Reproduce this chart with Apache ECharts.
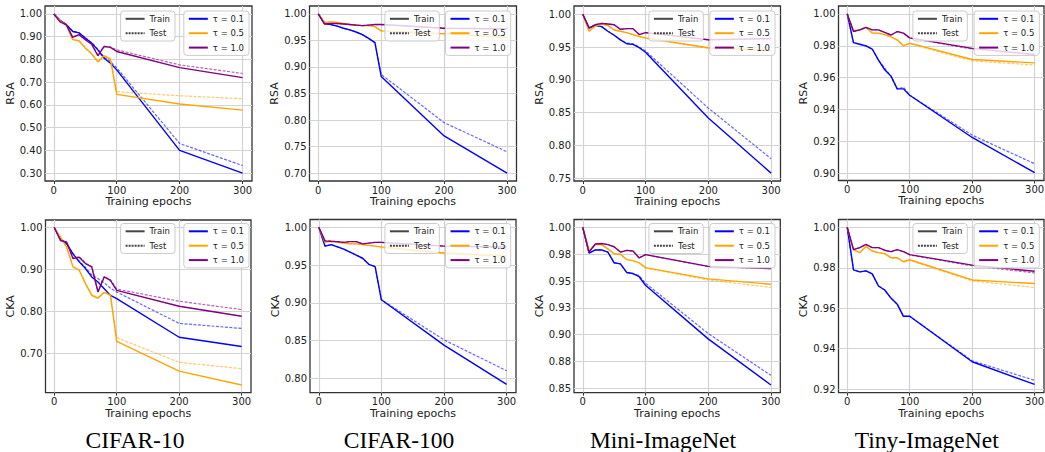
<!DOCTYPE html>
<html><head><meta charset="utf-8">
<script src="https://cdn.jsdelivr.net/npm/echarts@6/dist/echarts.min.js"></script>
<style>html,body{margin:0;padding:0;background:#fff}#c{width:1045px;height:452px}</style>
</head><body><div id="c"></div>
<script>
// ---------------- data ----------------
const epochs = [0, 10, 20, 30, 40, 50, 60, 70, 80, 90, 100, 200, 300];
const tauNames = ['τ = 0.1', 'τ = 0.5', 'τ = 1.0'];
const splitNames = ['Train', 'Test'];
const captions = ['CIFAR-10', 'CIFAR-100', 'Mini-ImageNet', 'Tiny-ImageNet'];
const metricNames = ['RSA', 'CKA'];
const xTicks = [0, 100, 200, 300];
const xTitle = 'Training epochs';

// RSA, CIFAR-10
const rsa_c10_t01_train = [1.0, 0.972, 0.953, 0.923, 0.917, 0.894, 0.872, 0.842, 0.805, 0.783, 0.754, 0.400, 0.300];
const rsa_c10_t01_test  = [1.0, 0.972, 0.953, 0.925, 0.918, 0.895, 0.875, 0.845, 0.810, 0.790, 0.763, 0.430, 0.333];
const rsa_c10_t05_train = [1.0, 0.970, 0.950, 0.887, 0.882, 0.850, 0.825, 0.789, 0.816, 0.800, 0.646, 0.604, 0.577];
const rsa_c10_t05_test  = [1.0, 0.970, 0.950, 0.888, 0.883, 0.852, 0.828, 0.792, 0.818, 0.805, 0.658, 0.640, 0.627];
const rsa_c10_t10_train = [1.0, 0.965, 0.952, 0.897, 0.909, 0.887, 0.867, 0.816, 0.857, 0.853, 0.835, 0.764, 0.720];
const rsa_c10_t10_test  = [1.0, 0.966, 0.953, 0.899, 0.910, 0.889, 0.870, 0.820, 0.858, 0.855, 0.842, 0.776, 0.738];
const rsa_c10_yTicks = [0.30, 0.40, 0.50, 0.60, 0.70, 0.80, 0.90, 1.00];
const rsa_c10_yLabels = ['0.30', '0.40', '0.50', '0.60', '0.70', '0.80', '0.90', '1.00'];

// RSA, CIFAR-100
const rsa_c100_t01_train = [1.0, 0.982, 0.980, 0.977, 0.973, 0.970, 0.966, 0.961, 0.954, 0.946, 0.882, 0.770, 0.700];
const rsa_c100_t01_test  = [1.0, 0.982, 0.980, 0.977, 0.973, 0.970, 0.966, 0.961, 0.954, 0.946, 0.886, 0.795, 0.740];
const rsa_c100_t05_train = [1.0, 0.984, 0.985, 0.984, 0.982, 0.980, 0.979, 0.978, 0.978, 0.976, 0.968, 0.963, 0.956];
const rsa_c100_t05_test  = [1.0, 0.984, 0.985, 0.984, 0.982, 0.980, 0.979, 0.978, 0.978, 0.976, 0.968, 0.962, 0.955];
const rsa_c100_t10_train = [1.0, 0.981, 0.982, 0.982, 0.981, 0.980, 0.979, 0.978, 0.979, 0.980, 0.980, 0.973, 0.972];
const rsa_c100_t10_test  = [1.0, 0.981, 0.982, 0.982, 0.981, 0.980, 0.979, 0.978, 0.979, 0.980, 0.980, 0.973, 0.971];
const rsa_c100_yTicks = [0.70, 0.75, 0.80, 0.85, 0.90, 0.95, 1.00];
const rsa_c100_yLabels = ['0.70', '0.75', '0.80', '0.85', '0.90', '0.95', '1.00'];

// RSA, Mini-ImageNet
const rsa_mini_t01_train = [1.0, 0.979, 0.983, 0.981, 0.974, 0.968, 0.961, 0.955, 0.954, 0.949, 0.942, 0.842, 0.758];
const rsa_mini_t01_test  = [1.0, 0.979, 0.983, 0.981, 0.974, 0.968, 0.961, 0.956, 0.955, 0.950, 0.944, 0.857, 0.780];
const rsa_mini_t05_train = [1.0, 0.974, 0.982, 0.985, 0.983, 0.976, 0.974, 0.972, 0.969, 0.966, 0.964, 0.949, 0.945];
const rsa_mini_t05_test  = [1.0, 0.974, 0.982, 0.985, 0.983, 0.976, 0.974, 0.972, 0.969, 0.966, 0.963, 0.948, 0.944];
const rsa_mini_t10_train = [1.0, 0.979, 0.984, 0.986, 0.985, 0.984, 0.977, 0.978, 0.978, 0.969, 0.972, 0.961, 0.963];
const rsa_mini_t10_test  = [1.0, 0.979, 0.984, 0.986, 0.985, 0.984, 0.977, 0.978, 0.978, 0.969, 0.972, 0.961, 0.962];
const rsa_mini_yTicks = [0.75, 0.80, 0.85, 0.90, 0.95, 1.00];
const rsa_mini_yLabels = ['0.75', '0.80', '0.85', '0.90', '0.95', '1.00'];

// RSA, Tiny-ImageNet
const rsa_tiny_t01_train = [1.0, 0.982, 0.981, 0.980, 0.978, 0.971, 0.965, 0.961, 0.953, 0.953, 0.949, 0.9225, 0.9005];
const rsa_tiny_t01_test  = [1.0, 0.982, 0.981, 0.980, 0.978, 0.971, 0.966, 0.961, 0.953, 0.954, 0.949, 0.924, 0.906];
const rsa_tiny_t05_train = [1.0, 0.9895, 0.990, 0.9916, 0.988, 0.988, 0.987, 0.9857, 0.9838, 0.980, 0.9817, 0.9714, 0.9693];
const rsa_tiny_t05_test  = [1.0, 0.9895, 0.990, 0.9914, 0.988, 0.9878, 0.9868, 0.9855, 0.9835, 0.980, 0.9813, 0.9705, 0.968];
const rsa_tiny_t10_train = [1.0, 0.989, 0.990, 0.9916, 0.990, 0.990, 0.9885, 0.9868, 0.989, 0.988, 0.985, 0.9784, 0.9746];
const rsa_tiny_t10_test  = [1.0, 0.989, 0.990, 0.9915, 0.990, 0.990, 0.9884, 0.9866, 0.9888, 0.988, 0.9848, 0.978, 0.9744];
const rsa_tiny_yTicks = [0.90, 0.92, 0.94, 0.96, 0.98, 1.00];
const rsa_tiny_yLabels = ['0.90', '0.92', '0.94', '0.96', '0.98', '1.00'];

// CKA, CIFAR-10
const cka_c10_t01_train = [1.0, 0.973, 0.961, 0.937, 0.918, 0.902, 0.882, 0.870, 0.854, 0.838, 0.830, 0.738, 0.716];
const cka_c10_t01_test  = [1.0, 0.973, 0.961, 0.938, 0.920, 0.905, 0.887, 0.878, 0.868, 0.855, 0.846, 0.771, 0.759];
const cka_c10_t05_train = [1.0, 0.977, 0.953, 0.906, 0.898, 0.866, 0.838, 0.831, 0.845, 0.838, 0.728, 0.657, 0.624];
const cka_c10_t05_test  = [1.0, 0.977, 0.953, 0.907, 0.899, 0.867, 0.840, 0.833, 0.846, 0.840, 0.737, 0.678, 0.663];
const cka_c10_t10_train = [1.0, 0.969, 0.965, 0.926, 0.929, 0.914, 0.906, 0.846, 0.882, 0.874, 0.850, 0.812, 0.788];
const cka_c10_t10_test  = [1.0, 0.969, 0.965, 0.927, 0.930, 0.915, 0.907, 0.848, 0.883, 0.875, 0.853, 0.824, 0.804];
const cka_c10_yTicks = [0.70, 0.80, 0.90, 1.00];
const cka_c10_yLabels = ['0.70', '0.80', '0.90', '1.00'];

// CKA, CIFAR-100
const cka_c100_t01_train = [1.0, 0.975, 0.977, 0.974, 0.971, 0.967, 0.963, 0.959, 0.951, 0.948, 0.904, 0.844, 0.792];
const cka_c100_t01_test  = [1.0, 0.975, 0.977, 0.974, 0.971, 0.967, 0.963, 0.959, 0.951, 0.948, 0.904, 0.851, 0.810];
const cka_c100_t05_train = [1.0, 0.980, 0.982, 0.980, 0.979, 0.978, 0.978, 0.977, 0.976, 0.975, 0.974, 0.966, 0.962];
const cka_c100_t05_test  = [1.0, 0.980, 0.982, 0.980, 0.979, 0.978, 0.978, 0.977, 0.976, 0.975, 0.973, 0.965, 0.961];
const cka_c100_t10_train = [1.0, 0.982, 0.981, 0.981, 0.980, 0.981, 0.981, 0.978, 0.979, 0.980, 0.980, 0.975, 0.974];
const cka_c100_t10_test  = [1.0, 0.982, 0.982, 0.981, 0.980, 0.981, 0.981, 0.978, 0.979, 0.980, 0.980, 0.975, 0.973];
const cka_c100_yTicks = [0.80, 0.85, 0.90, 0.95, 1.00];
const cka_c100_yLabels = ['0.80', '0.85', '0.90', '0.95', '1.00'];

// CKA, Mini-ImageNet
const cka_mini_t01_train = [1.0, 0.976, 0.979, 0.979, 0.977, 0.967, 0.966, 0.958, 0.957, 0.954, 0.946, 0.896, 0.853];
const cka_mini_t01_test  = [1.0, 0.976, 0.979, 0.979, 0.977, 0.967, 0.966, 0.958, 0.957, 0.955, 0.948, 0.901, 0.862];
const cka_mini_t05_train = [1.0, 0.978, 0.984, 0.984, 0.980, 0.9755, 0.975, 0.970, 0.969, 0.967, 0.9625, 0.952, 0.947];
const cka_mini_t05_test  = [1.0, 0.978, 0.984, 0.984, 0.980, 0.9755, 0.975, 0.970, 0.969, 0.967, 0.962, 0.951, 0.944];
const cka_mini_t10_train = [1.0, 0.977, 0.9845, 0.985, 0.984, 0.982, 0.977, 0.9786, 0.978, 0.9715, 0.9746, 0.9637, 0.9616];
const cka_mini_t10_test  = [1.0, 0.977, 0.9845, 0.985, 0.984, 0.982, 0.977, 0.9786, 0.978, 0.9715, 0.9745, 0.9635, 0.9615];
const cka_mini_yTicks = [0.85, 0.875, 0.90, 0.925, 0.95, 0.975, 1.00];
const cka_mini_yLabels = ['0.85', '0.88', '0.90', '0.93', '0.95', '0.98', '1.00'];

// CKA, Tiny-ImageNet
const cka_tiny_t01_train = [1.0, 0.979, 0.978, 0.9785, 0.977, 0.971, 0.969, 0.965, 0.962, 0.956, 0.956, 0.9335, 0.9223];
const cka_tiny_t01_test  = [1.0, 0.979, 0.978, 0.9785, 0.977, 0.971, 0.969, 0.965, 0.962, 0.956, 0.956, 0.934, 0.9243];
const cka_tiny_t05_train = [1.0, 0.989, 0.9875, 0.9906, 0.9883, 0.9875, 0.987, 0.985, 0.985, 0.983, 0.984, 0.974, 0.9722];
const cka_tiny_t05_test  = [1.0, 0.989, 0.9875, 0.9905, 0.9882, 0.9873, 0.9868, 0.9848, 0.9848, 0.9828, 0.9837, 0.9735, 0.9703];
const cka_tiny_t10_train = [1.0, 0.989, 0.990, 0.9916, 0.990, 0.990, 0.9887, 0.988, 0.989, 0.988, 0.9865, 0.9813, 0.9783];
const cka_tiny_t10_test  = [1.0, 0.989, 0.990, 0.9915, 0.990, 0.990, 0.9886, 0.9879, 0.9889, 0.988, 0.9863, 0.981, 0.9775];
const cka_tiny_yTicks = [0.92, 0.94, 0.96, 0.98, 1.00];
const cka_tiny_yLabels = ['0.92', '0.94', '0.96', '0.98', '1.00'];

// ---------------- panel assembly ----------------
const panels = [
  { metric: 0, lines: [[rsa_c10_t01_train, rsa_c10_t01_test], [rsa_c10_t05_train, rsa_c10_t05_test], [rsa_c10_t10_train, rsa_c10_t10_test]], yTicks: rsa_c10_yTicks, yLabels: rsa_c10_yLabels },
  { metric: 0, lines: [[rsa_c100_t01_train, rsa_c100_t01_test], [rsa_c100_t05_train, rsa_c100_t05_test], [rsa_c100_t10_train, rsa_c100_t10_test]], yTicks: rsa_c100_yTicks, yLabels: rsa_c100_yLabels },
  { metric: 0, lines: [[rsa_mini_t01_train, rsa_mini_t01_test], [rsa_mini_t05_train, rsa_mini_t05_test], [rsa_mini_t10_train, rsa_mini_t10_test]], yTicks: rsa_mini_yTicks, yLabels: rsa_mini_yLabels },
  { metric: 0, lines: [[rsa_tiny_t01_train, rsa_tiny_t01_test], [rsa_tiny_t05_train, rsa_tiny_t05_test], [rsa_tiny_t10_train, rsa_tiny_t10_test]], yTicks: rsa_tiny_yTicks, yLabels: rsa_tiny_yLabels },
  { metric: 1, lines: [[cka_c10_t01_train, cka_c10_t01_test], [cka_c10_t05_train, cka_c10_t05_test], [cka_c10_t10_train, cka_c10_t10_test]], yTicks: cka_c10_yTicks, yLabels: cka_c10_yLabels },
  { metric: 1, lines: [[cka_c100_t01_train, cka_c100_t01_test], [cka_c100_t05_train, cka_c100_t05_test], [cka_c100_t10_train, cka_c100_t10_test]], yTicks: cka_c100_yTicks, yLabels: cka_c100_yLabels },
  { metric: 1, lines: [[cka_mini_t01_train, cka_mini_t01_test], [cka_mini_t05_train, cka_mini_t05_test], [cka_mini_t10_train, cka_mini_t10_test]], yTicks: cka_mini_yTicks, yLabels: cka_mini_yLabels },
  { metric: 1, lines: [[cka_tiny_t01_train, cka_tiny_t01_test], [cka_tiny_t05_train, cka_tiny_t05_test], [cka_tiny_t10_train, cka_tiny_t10_test]], yTicks: cka_tiny_yTicks, yLabels: cka_tiny_yLabels }
];

// ---------------- layout & style ----------------
const yRanges = [
  [0.265, 1.035], [0.685, 1.015], [0.746, 1.0125], [0.8955, 1.005],
  [0.6055, 1.018], [0.781, 1.0103], [0.8458, 1.0074], [0.9182, 1.0039]
];
const xRange = [-14, 315];
const grids = [
  { left: 45, top: 6, width: 207, height: 175 },
  { left: 309.5, top: 6, width: 207, height: 175 },
  { left: 574, top: 6, width: 206.5, height: 175 },
  { left: 838.5, top: 6, width: 205.5, height: 174.5 },
  { left: 45.5, top: 220, width: 205.5, height: 172.7 },
  { left: 310, top: 219.5, width: 206, height: 173.2 },
  { left: 574, top: 219.5, width: 206.3, height: 173.2 },
  { left: 838.5, top: 219.5, width: 205.5, height: 173.2 }
];
const legendRight1 = [870, 605.7, 341.7, 77.7];
const legendRight2 = [796, 534.3, 270, 5.7];
const legendTops = [11, 223.5];
const captionX = [130, 394, 658, 921.7];
const colors = ['#0000ff', '#ffa500', '#800080'];
const FONT = "'DejaVu Sans', sans-serif";
const TXT = '#222';

const option = {
  animation: false,
  backgroundColor: '#ffffff',
  title: captions.map((c, i) => ({
    text: c, left: captionX[i], top: 423, textAlign: 'center',
    textStyle: { fontFamily: "'Liberation Serif', 'Times New Roman', serif", fontSize: 23.5, fontWeight: 'normal', color: '#000' }
  })),
  grid: grids.map(g => Object.assign({ show: true, borderColor: '#333', borderWidth: 1.3, backgroundColor: 'transparent', containLabel: false, outerBoundsMode: 'none' }, g)),
  xAxis: grids.map((g, i) => ({
    type: 'value', gridIndex: i, min: xRange[0], max: xRange[1],
    name: xTitle, nameLocation: 'middle', nameGap: 12,
    nameTextStyle: { fontFamily: FONT, fontSize: 11, color: TXT },
    axisLine: { show: false },
    axisTick: { show: true, customValues: xTicks, length: 3, lineStyle: { color: '#333' } },
    axisLabel: { customValues: xTicks, fontFamily: FONT, fontSize: 10, color: TXT, margin: 4 },
    splitLine: { show: true, lineStyle: { color: '#d3d3d3', width: 1.2 } }
  })),
  yAxis: panels.map((p, i) => ({
    type: 'value', gridIndex: i, min: yRanges[i][0], max: yRanges[i][1],
    name: metricNames[p.metric], nameLocation: 'middle', nameRotate: 90, nameGap: 27,
    nameTextStyle: { fontFamily: FONT, fontSize: 11, color: TXT },
    axisLine: { show: false },
    axisTick: { show: false, customValues: p.yTicks },
    axisLabel: {
      customValues: p.yTicks, fontFamily: FONT, fontSize: 10, color: TXT, margin: 3,
      formatter: v => { const k = p.yTicks.findIndex(t => Math.abs(t - v) < 1e-6); return k >= 0 ? p.yLabels[k] : ''; }
    },
    splitLine: { show: true, lineStyle: { color: '#d3d3d3', width: 1.2 } }
  })),
  legend: [],
  series: []
};

// legend-only series for Train / Test line styles
option.series.push({ name: splitNames[0], type: 'line', xAxisIndex: 0, yAxisIndex: 0, data: [], symbol: 'none', itemStyle: { color: '#444' }, lineStyle: { color: '#444', width: 1.7 } });
option.series.push({ name: splitNames[1], type: 'line', xAxisIndex: 0, yAxisIndex: 0, data: [], symbol: 'none', itemStyle: { color: '#444' }, lineStyle: { color: '#444', width: 1.2, type: [2, 1] } });

panels.forEach((p, i) => {
  p.lines.forEach((pair, k) => {
    option.series.push({
      name: tauNames[k], type: 'line', xAxisIndex: i, yAxisIndex: i,
      data: epochs.map((e, j) => [e, pair[0][j]]),
      symbol: 'none', showSymbol: false, z: 3,
      itemStyle: { color: colors[k] }, lineStyle: { color: colors[k], width: 1.4 }
    });
    option.series.push({
      name: tauNames[k] + ' (test)', type: 'line', xAxisIndex: i, yAxisIndex: i,
      data: epochs.map((e, j) => [e, pair[1][j]]),
      symbol: 'none', showSymbol: false, z: 3,
      itemStyle: { color: colors[k] }, lineStyle: { color: colors[k], width: 1.2, type: [3, 1.5], opacity: 0.6 }
    });
  });
  const col = i % 4, row = Math.floor(i / 4);
  const common = {
    orient: 'vertical', top: legendTops[row], selectedMode: false,
    itemWidth: 19, itemHeight: 10, itemGap: 4.4, padding: [2.8, 5, 2.8, 4],
    itemStyle: { opacity: 0, borderWidth: 0 },
    backgroundColor: 'rgba(255,255,255,0.8)', borderColor: '#cccccc', borderWidth: 1, borderRadius: 3,
    textStyle: { fontFamily: FONT, fontSize: 8.5, color: TXT, lineHeight: 10 },
    z: 10
  };
  option.legend.push(Object.assign({}, common, { right: legendRight1[col], data: splitNames }));
  option.legend.push(Object.assign({}, common, { right: legendRight2[col], data: tauNames }));
});

const chart = echarts.init(document.getElementById('c'), null, { renderer: 'svg' });
chart.setOption(option);
</script>
</body></html>
